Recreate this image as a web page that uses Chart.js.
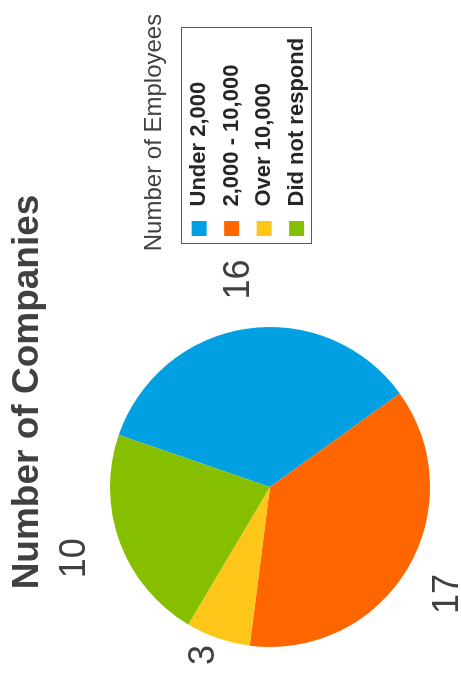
<!DOCTYPE html>
<html>
<head>
<meta charset="utf-8">
<script src="https://cdn.jsdelivr.net/npm/chart.js@4"></script>
<style>
  html, body { margin: 0; padding: 0; background: #fff; overflow: hidden; }
  /* the chart is laid out landscape and turned on its side */
  #wrap {
    position: absolute; left: 0; top: 0;
    width: 679px; height: 461px;
    transform-origin: 0 0;
    transform: translate(0, 679px) rotate(-90deg);
  }
</style>
</head>
<body>
<div id="wrap"><canvas id="chart--pie" width="679" height="461"></canvas></div>
<script>
//pie
const labels_pie = ['Under 2,000', '2,000 - 10,000', 'Over 10,000', 'Did not respond'];
const values_pie = [16, 17, 3, 10];
const colors_pie = ['#00a0e3', '#ff6600', '#ffc61a', '#86bf00'];

const FONT = "'Liberation Sans', Arial, sans-serif";
const TEXT = '#404040';

// pie sits left of the legend; title is centred over pie + gap;
// legend box made wide enough for its title
const pieLayout = {
    id: 'pieLayout',
    afterLayout(chart) {
        const cx = 192, cy = 270, r = 160;
        chart.chartArea = {
            left: cx - r, top: cy - r, right: cx + r, bottom: cy + r,
            width: 2 * r, height: 2 * r
        };
        chart.titleBlock.left = 0;
        chart.titleBlock.right = 574;
        const legend = chart.legend;
        legend.left = 429;
        legend.right = 664;
        legend.width = legend.right - legend.left;
    }
};

// value labels outside each slice, kept inside the canvas
const sliceLabels = {
    id: 'sliceLabels',
    afterDatasetsDraw(chart) {
        const ctx = chart.ctx;
        const meta = chart.getDatasetMeta(0);
        ctx.save();
        ctx.font = '36px ' + FONT;
        ctx.fillStyle = TEXT;
        ctx.textAlign = 'center';
        ctx.textBaseline = 'middle';
        meta.data.forEach((arc, i) => {
            const p = arc.getProps(['x', 'y', 'startAngle', 'endAngle', 'outerRadius']);
            const mid = (p.startAngle + p.endAngle) / 2;
            const text = String(values_pie[i]);
            const w = ctx.measureText(text).width;
            const h = 26;
            const d = p.outerRadius + 28 + Math.abs(Math.cos(mid)) * w / 2 + Math.abs(Math.sin(mid)) * h / 2;
            let x = p.x + Math.cos(mid) * d;
            let y = p.y + Math.sin(mid) * d;
            x = Math.min(Math.max(x, w / 2 + 14), chart.width - w / 2 - 14);
            y = Math.min(Math.max(y, h / 2), chart.height - h / 2);
            ctx.fillText(text, x, y);
        });
        ctx.restore();
    }
};

// thin frame round the legend items (not the legend title)
const legendFrame = {
    id: 'legendFrame',
    afterDraw(chart) {
        const boxes = chart.legend.legendHitBoxes;
        if (!boxes || !boxes.length) return;
        const l = Math.min(...boxes.map(b => b.left)) - 4.5;
        const t = Math.min(...boxes.map(b => b.top)) - 7;
        const r = Math.max(...boxes.map(b => b.left + b.width)) + 10;
        const btm = Math.max(...boxes.map(b => b.top + b.height)) + 4;
        const ctx = chart.ctx;
        ctx.save();
        ctx.strokeStyle = '#595959';
        ctx.lineWidth = 1;
        ctx.strokeRect(Math.round(l) + 0.5, Math.round(t) + 0.5, Math.round(r - l), Math.round(btm - t));
        ctx.restore();
    }
};

const data_pie = {
    labels: labels_pie,
    datasets: [{
        data: values_pie,
        backgroundColor: colors_pie,
        borderWidth: 0
    }]
};

const config_pie = {
    type: 'pie',
    data: data_pie,
    options: {
        responsive: false,
        animation: false,
        rotation: 19,
        layout: { padding: { top: 0, right: 14, bottom: 0, left: 0 } },
        plugins: {
            tooltip: { enabled: false },
            title: {
                display: true,
                text: 'Number of Companies',
                color: TEXT,
                font: { family: FONT, size: 37, weight: 'bold' },
                padding: { top: 6, bottom: 10 }
            },
            legend: {
                position: 'right',
                align: 'center',
                title: {
                    display: true,
                    text: 'Number of Employees',
                    color: TEXT,
                    font: { family: FONT, size: 24 },
                    padding: { top: 0, bottom: 6 }
                },
                labels: {
                    usePointStyle: true,
                    pointStyle: 'rect',
                    boxWidth: 22,
                    boxHeight: 15,
                    padding: 10.5,
                    color: '#262626',
                    font: { family: FONT, size: 22, weight: 'bold' }
                }
            }
        }
    },
    plugins: [pieLayout, sliceLabels, legendFrame]
};

var chartpie = new Chart(
    document.getElementById('chart--pie'),
    config_pie
);
</script>
</body>
</html>
